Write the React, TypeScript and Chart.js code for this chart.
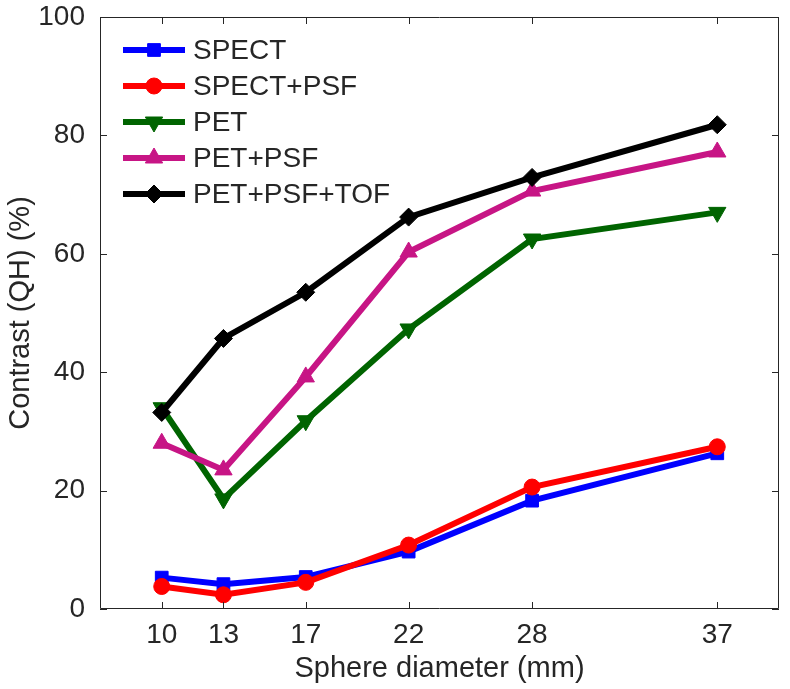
import React, { useEffect, useRef } from "react";
import { Chart, registerables } from "chart.js";
import { drawPoint } from "chart.js/helpers";

Chart.register(...registerables);

const diameters = [10, 13, 17, 22, 28, 37];
const xTickValues = [10, 13, 17, 22, 28, 37];
const yTickValues = [0, 20, 40, 60, 80, 100];

const spect = [5.3, 4.2, 5.4, 9.7, 18.3, 26.3];
const spectPsf = [3.8, 2.4, 4.5, 10.8, 20.6, 27.4];
const pet = [34.0, 18.6, 31.8, 47.3, 62.5, 67.0];
const petPsf = [28.0, 23.5, 39.2, 60.3, 70.6, 77.2];
const petPsfTof = [33.2, 45.7, 53.5, 66.2, 72.9, 81.8];

const seriesLabels = ["SPECT", "SPECT+PSF", "PET", "PET+PSF", "PET+PSF+TOF"];
const seriesColors = ["#0000ff", "#ff0000", "#006400", "#c71585", "#000000"];
const seriesStyles = ["rect", "circle", "triangle", "triangle", "rectRot"];
const seriesRotation = [0, 0, 180, 0, 0];
const seriesRadius = [9, 8, 10, 10, 9];

const FONT = "'Liberation Sans', Arial, Helvetica, sans-serif";
const TEXT = "#262626";

const boxPlugin = {
  id: "boxTicks",
  afterDatasetsDraw(chart: any) {
    const { ctx, chartArea } = chart;
    const { left, right, top, bottom } = chartArea;
    const xs = chart.scales.x;
    const ys = chart.scales.y;
    ctx.save();
    ctx.strokeStyle = TEXT;
    ctx.lineWidth = 1;
    ctx.beginPath();
    ctx.rect(left + 0.5, top + 0.5, right - left - 1, bottom - top - 1);
    const tl = 7;
    xTickValues.forEach((v) => {
      const px = Math.round(xs.getPixelForValue(v)) + 0.5;
      ctx.moveTo(px, bottom);
      ctx.lineTo(px, bottom - tl);
      ctx.moveTo(px, top);
      ctx.lineTo(px, top + tl);
    });
    yTickValues.forEach((v) => {
      const py = Math.round(ys.getPixelForValue(v)) + 0.5;
      ctx.moveTo(left, py);
      ctx.lineTo(left + tl, py);
      ctx.moveTo(right, py);
      ctx.lineTo(right - tl, py);
    });
    ctx.stroke();
    ctx.restore();
  },
};

const legendPlugin = {
  id: "matlabLegend",
  afterDraw(chart: any) {
    const { ctx } = chart;
    const x0 = 123;
    const x1 = 185;
    const xm = 154;
    const tx = 193;
    const y0 = 50;
    const dy = 36;
    ctx.save();
    chart.data.datasets.forEach((ds: any, i: number) => {
      const y = y0 + dy * i;
      ctx.strokeStyle = ds.borderColor;
      ctx.lineWidth = 6;
      ctx.beginPath();
      ctx.moveTo(x0, y);
      ctx.lineTo(x1, y);
      ctx.stroke();
      ctx.fillStyle = ds.borderColor;
      ctx.strokeStyle = ds.borderColor;
      ctx.lineWidth = 1;
      drawPoint(ctx, {
        pointStyle: ds.pointStyle,
        radius: ds.pointRadius,
        rotation: ds.pointRotation,
        borderWidth: 1,
      } as any, xm, y);
      ctx.fillStyle = TEXT;
      ctx.font = `28px ${FONT}`;
      ctx.textBaseline = "middle";
      ctx.textAlign = "left";
      ctx.fillText(ds.label, tx, y + 1);
    });
    ctx.restore();
  },
};

export default function App() {
  const ref = useRef<HTMLCanvasElement | null>(null);

  useEffect(() => {
    if (!ref.current) return;
    const allSeries = [spect, spectPsf, pet, petPsf, petPsfTof];
    const datasets = allSeries.map((vals, i) => ({
      label: seriesLabels[i],
      data: diameters.map((d, j) => ({ x: d, y: vals[j] })),
      borderColor: seriesColors[i],
      backgroundColor: seriesColors[i],
      pointBackgroundColor: seriesColors[i],
      pointBorderColor: seriesColors[i],
      borderWidth: 6,
      pointStyle: seriesStyles[i],
      pointRotation: seriesRotation[i],
      pointRadius: seriesRadius[i],
      pointBorderWidth: 1,
      tension: 0,
      order: allSeries.length - i,
    }));

    const chart = new Chart(ref.current, {
      type: "line",
      data: { datasets },
      options: {
        animation: false,
        responsive: false,
        layout: { padding: { top: 17, right: 9, left: 0, bottom: 0 } },
        plugins: {
          legend: { display: false },
          tooltip: { enabled: false },
        },
        scales: {
          x: {
            type: "linear",
            min: 7,
            max: 40,
            grid: { display: false },
            border: { display: false },
            afterBuildTicks: (scale: any) => {
              scale.ticks = xTickValues.map((v) => ({ value: v }));
            },
            afterFit: (scale: any) => {
              scale.height = 80;
              scale.paddingLeft = 0;
              scale.paddingRight = 0;
            },
            ticks: {
              padding: 1,
              autoSkip: false,
              maxRotation: 0,
              color: TEXT,
              font: { family: FONT, size: 28 },
            },
            title: {
              display: true,
              text: "Sphere diameter (mm)",
              color: TEXT,
              font: { family: FONT, size: 29 },
              padding: { top: 0, bottom: 3 },
            },
          },
          y: {
            type: "linear",
            min: 0,
            max: 100,
            grid: { display: false },
            border: { display: false },
            afterBuildTicks: (scale: any) => {
              scale.ticks = yTickValues.map((v) => ({ value: v }));
            },
            afterFit: (scale: any) => {
              scale.width = 100;
              scale.paddingTop = 0;
              scale.paddingBottom = 0;
            },
            ticks: {
              padding: 7,
              color: TEXT,
              font: { family: FONT, size: 28 },
            },
            title: {
              display: true,
              text: "Contrast (QH) (%)",
              color: TEXT,
              font: { family: FONT, size: 29 },
              padding: { top: 4, bottom: 0 },
            },
          },
        },
      },
      plugins: [boxPlugin, legendPlugin],
    } as any);

    return () => chart.destroy();
  }, []);

  return (
    <div style={{ position: "absolute", left: 0, top: 0, width: 790, height: 689, background: "#ffffff" }}>
      <canvas ref={ref} width={790} height={689} style={{ display: "block" }} />
    </div>
  );
}
